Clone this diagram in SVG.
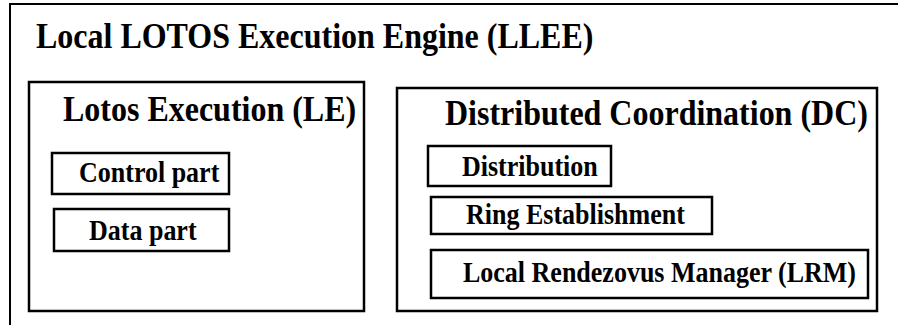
<svg xmlns="http://www.w3.org/2000/svg" width="898" height="325" viewBox="0 0 898 325">
  <style>
    .box { fill: #ffffff; stroke: #000000; stroke-width: 2.5; }
    .outer { fill: #ffffff; stroke: #000000; stroke-width: 2; }
    .title { font-family: "Liberation Serif", "Times New Roman", serif; font-weight: bold; font-size: 32px; fill: #000000; }
    .label { font-family: "Liberation Serif", "Times New Roman", serif; font-weight: bold; font-size: 26px; fill: #000000; }
  </style>

  <!-- Engine container (extends past the right and bottom edges) -->
  <g id="llee">
    <rect class="outer" x="10" y="4" width="900" height="340"/>
    <text class="title" transform="translate(36 48) scale(1 1.13)">Local LOTOS Execution Engine (LLEE)</text>
  </g>

  <!-- Lotos Execution block -->
  <g id="le">
    <rect class="box" x="29" y="82" width="335" height="229"/>
    <text class="title" transform="translate(63 121) scale(1 1.13)">Lotos Execution (LE)</text>
  </g>
  <g id="control-part">
    <rect class="box" x="52" y="153" width="177" height="41"/>
    <text class="label" transform="translate(79 182) scale(1 1.13)">Control part</text>
  </g>
  <g id="data-part">
    <rect class="box" x="54" y="209" width="175" height="42"/>
    <text class="label" transform="translate(89 240) scale(1 1.13)">Data part</text>
  </g>

  <!-- Distributed Coordination block -->
  <g id="dc">
    <rect class="box" x="397" y="88" width="480" height="223"/>
    <text class="title" transform="translate(445 125) scale(1 1.13)">Distributed Coordination (DC)</text>
  </g>
  <g id="distribution">
    <rect class="box" x="428" y="146" width="183" height="40"/>
    <text class="label" transform="translate(462 176) scale(1 1.13)">Distribution</text>
  </g>
  <g id="ring-establishment">
    <rect class="box" x="431" y="197" width="281" height="37"/>
    <text class="label" transform="translate(466 224) scale(1 1.13)">Ring Establishment</text>
  </g>
  <g id="lrm">
    <rect class="box" x="431" y="250" width="437" height="48"/>
    <text class="label" transform="translate(463 282) scale(1 1.13)">Local Rendezovus Manager (LRM)</text>
  </g>

  <g id="connectors"/>
</svg>
